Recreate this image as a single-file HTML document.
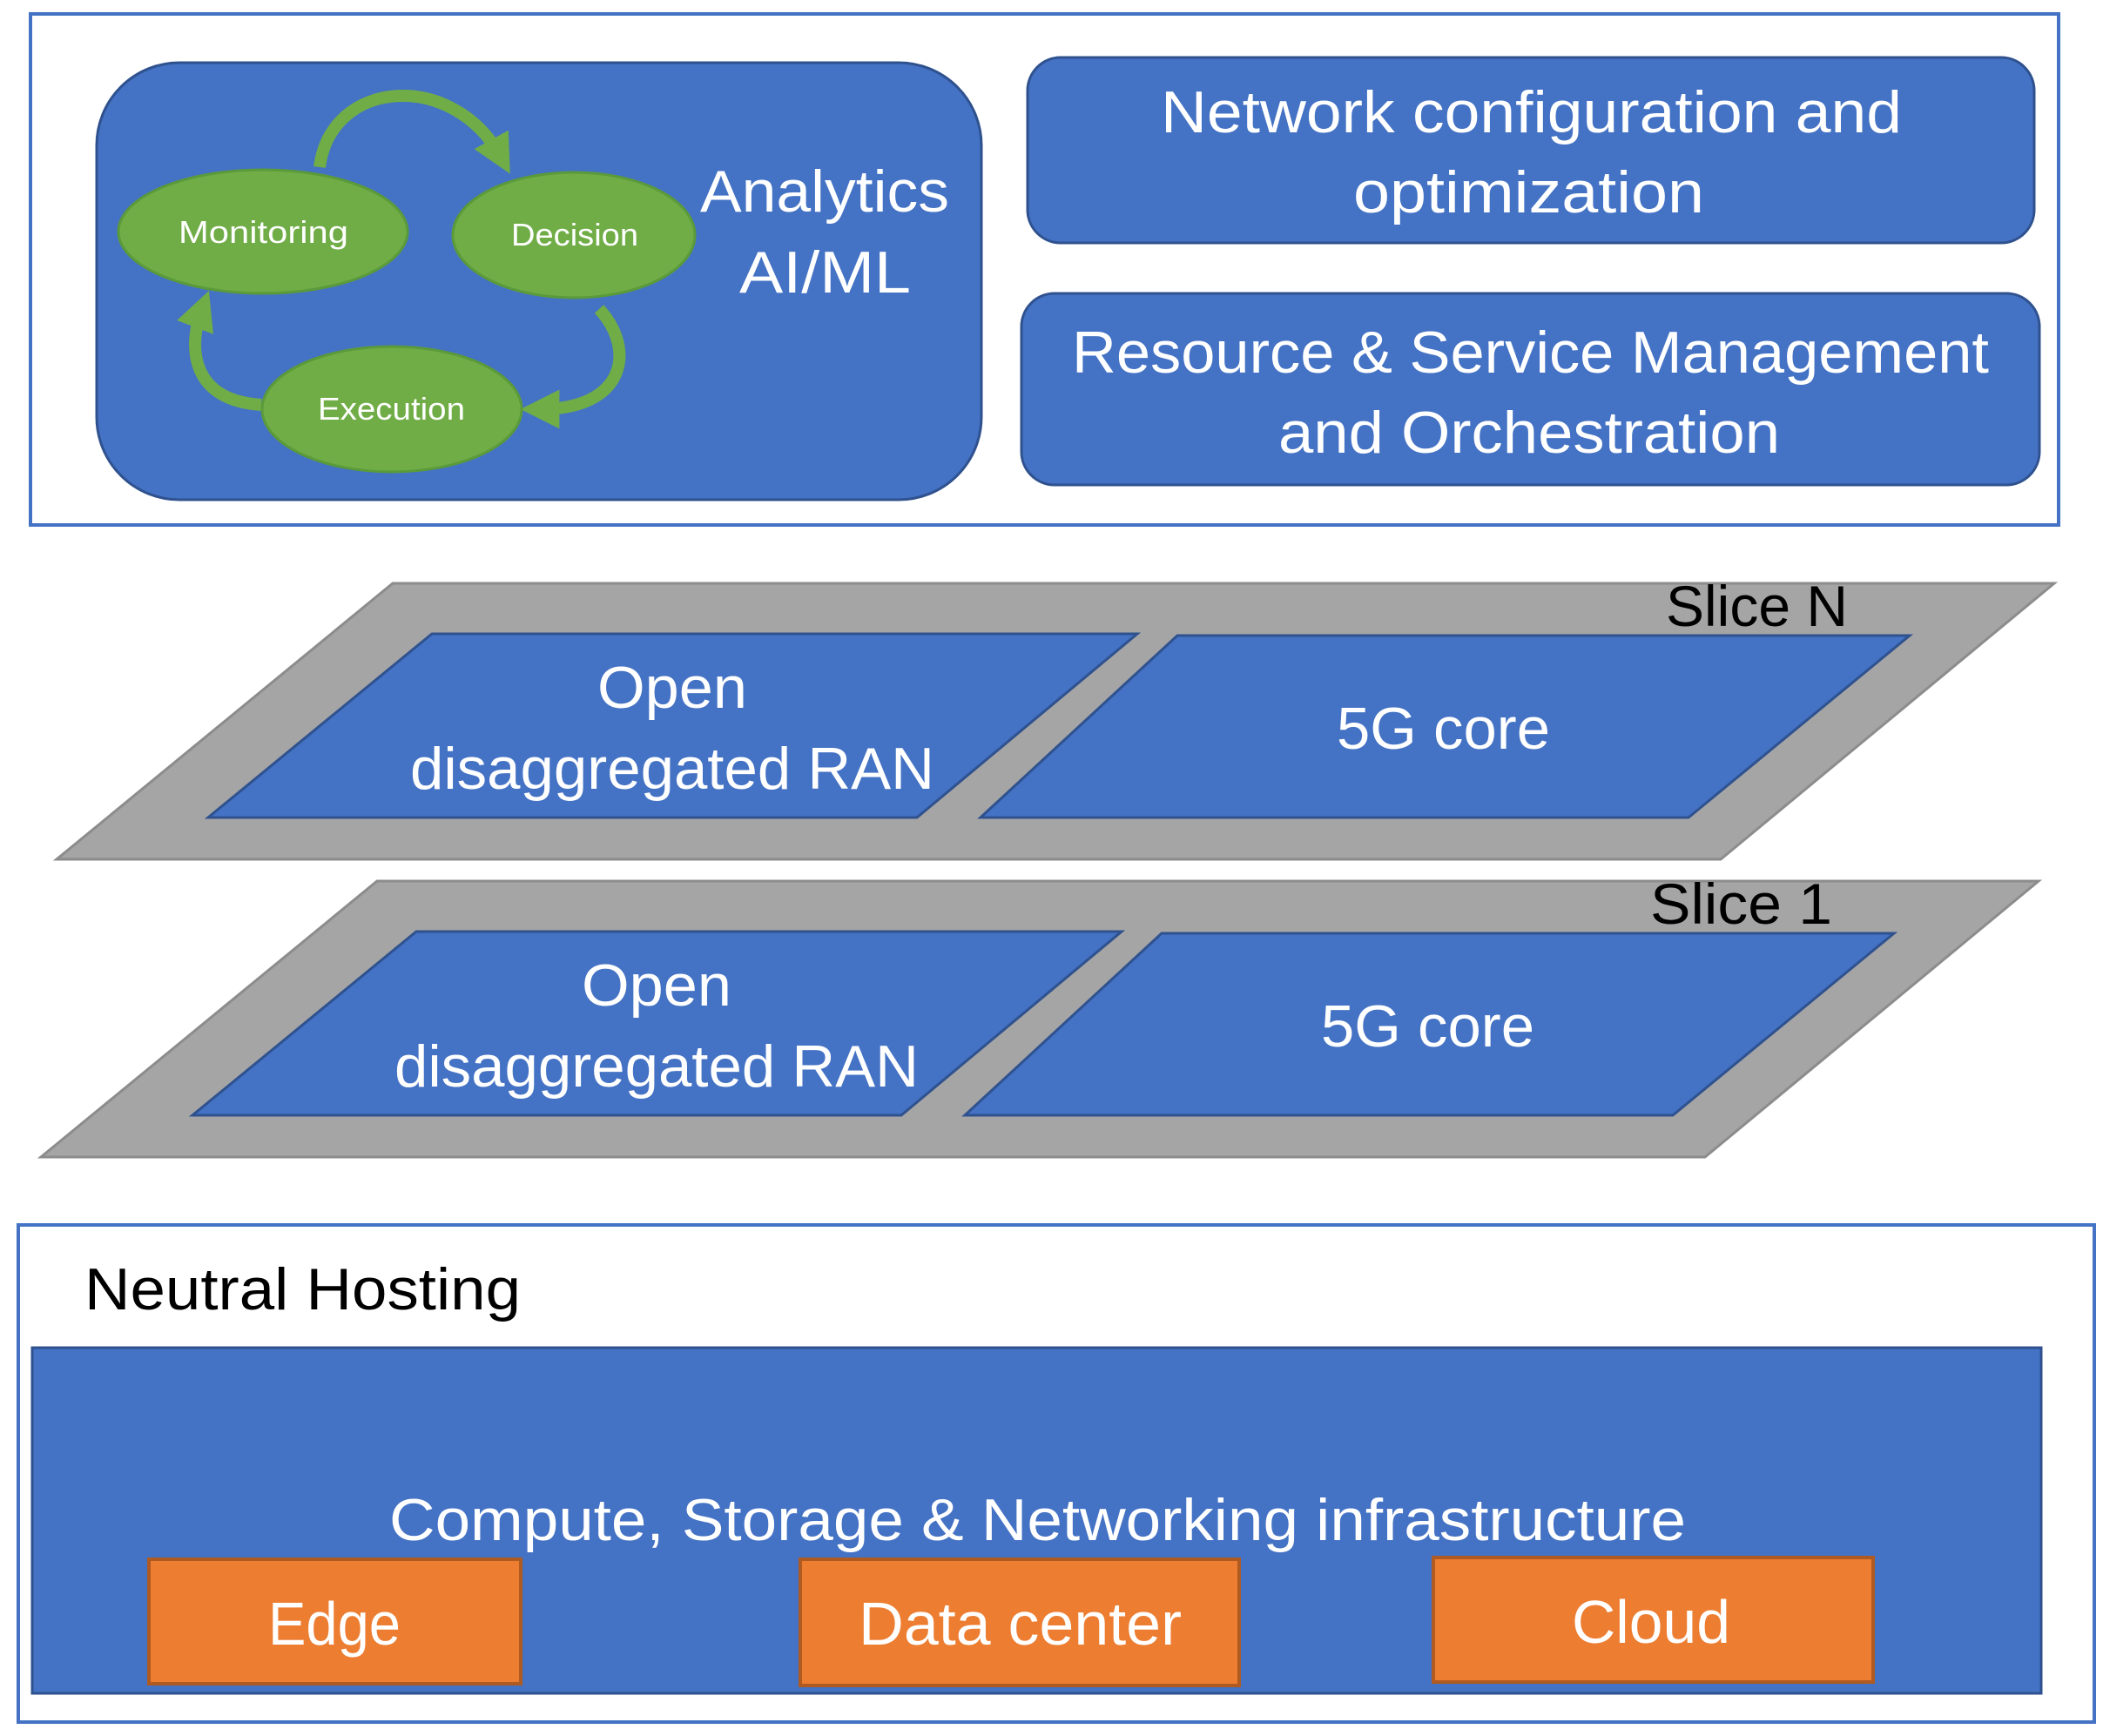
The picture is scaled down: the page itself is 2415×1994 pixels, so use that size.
<!DOCTYPE html>
<html><head><meta charset="utf-8"><style>html,body{margin:0;padding:0;background:#fff}svg{display:block}text{font-family:"Liberation Sans",sans-serif}</style></head>
<body>
<svg width="2415" height="1994" viewBox="0 0 2415 1994" xmlns="http://www.w3.org/2000/svg">
<defs>
<marker id="ah" viewBox="0 0 10 10" refX="5" refY="5" markerWidth="3.2" markerHeight="3.2" orient="auto"><path d="M0,0 L10,5 L0,10 Z" fill="#70AD47"/></marker>
</defs>
<!-- top box -->
<rect x="35" y="16" width="2329" height="587" fill="#fff" stroke="#4472C4" stroke-width="4"/>
<rect x="111" y="72" width="1016" height="502" rx="95" fill="#4472C4" stroke="#2F528F" stroke-width="3"/>
<rect x="1180" y="66" width="1156" height="213" rx="38" fill="#4472C4" stroke="#2F528F" stroke-width="3"/>
<rect x="1173" y="337" width="1169" height="220" rx="38" fill="#4472C4" stroke="#2F528F" stroke-width="3"/>
<g fill="#fff" font-size="68">
<text x="1333" y="152" textLength="851" lengthAdjust="spacingAndGlyphs">Network configuration and</text>
<text x="1554" y="244" textLength="403" lengthAdjust="spacingAndGlyphs">optimization</text>
<text x="1231" y="428" textLength="1053" lengthAdjust="spacingAndGlyphs">Resource &amp; Service Management</text>
<text x="1468" y="520" textLength="576" lengthAdjust="spacingAndGlyphs">and Orchestration</text>
<text x="804" y="243" textLength="286" lengthAdjust="spacingAndGlyphs">Analytics</text>
<text x="849" y="336" textLength="197" lengthAdjust="spacingAndGlyphs">AI/ML</text>
</g>
<!-- arrows -->
<g fill="none" stroke="#70AD47" stroke-width="14">
<path d="M367,192 C380,90 520,80 575,180" marker-end="url(#ah)"/>
<path d="M688,355 C730,400 720,470 620,470" marker-end="url(#ah)"/>
<path d="M300,465 C220,460 215,400 232,355" marker-end="url(#ah)"/>
</g>
<g fill="#70AD47" stroke="#5B9A3A" stroke-width="3">
<ellipse cx="302" cy="266" rx="166" ry="71"/>
<ellipse cx="659" cy="270" rx="139" ry="72"/>
<ellipse cx="450" cy="470" rx="149" ry="72"/>
</g>
<g fill="#fff" font-size="36">
<text x="205" y="279" textLength="195" lengthAdjust="spacingAndGlyphs">Monitoring</text>
<text x="587" y="282" textLength="146" lengthAdjust="spacingAndGlyphs">Decision</text>
<text x="365" y="482" textLength="169" lengthAdjust="spacingAndGlyphs">Execution</text>
</g>
<!-- slices -->
<g id="slice">
<polygon points="451,670 2359,670 1976,987 65,987" fill="#A5A5A5" stroke="#8C8C8C" stroke-width="3"/>
<polygon points="496,728 1306,728 1053,939 239,939" fill="#4472C4" stroke="#2F528F" stroke-width="3"/>
<polygon points="1352,730 2193,730 1939,939 1126,939" fill="#4472C4" stroke="#2F528F" stroke-width="3"/>
<g fill="#fff" font-size="68">
<text x="686" y="813" textLength="172" lengthAdjust="spacingAndGlyphs">Open</text>
<text x="471" y="906" textLength="602" lengthAdjust="spacingAndGlyphs">disaggregated RAN</text>
<text x="1535" y="860" textLength="245" lengthAdjust="spacingAndGlyphs">5G core</text>
</g>
</g>
<text x="1913" y="719" font-size="66" fill="#000" textLength="209" lengthAdjust="spacingAndGlyphs">Slice N</text>
<g transform="translate(-18,342)">
<polygon points="451,670 2359,670 1976,987 65,987" fill="#A5A5A5" stroke="#8C8C8C" stroke-width="3"/>
<polygon points="496,728 1306,728 1053,939 239,939" fill="#4472C4" stroke="#2F528F" stroke-width="3"/>
<polygon points="1352,730 2193,730 1939,939 1126,939" fill="#4472C4" stroke="#2F528F" stroke-width="3"/>
<g fill="#fff" font-size="68">
<text x="686" y="813" textLength="172" lengthAdjust="spacingAndGlyphs">Open</text>
<text x="471" y="906" textLength="602" lengthAdjust="spacingAndGlyphs">disaggregated RAN</text>
<text x="1535" y="860" textLength="245" lengthAdjust="spacingAndGlyphs">5G core</text>
</g>
<text x="1913" y="719" font-size="66" fill="#000" textLength="209" lengthAdjust="spacingAndGlyphs">Slice 1</text>
</g>
<!-- neutral hosting -->
<rect x="21" y="1407" width="2384" height="571" fill="#fff" stroke="#4472C4" stroke-width="4"/>
<text x="97" y="1504" font-size="68" fill="#000" textLength="501" lengthAdjust="spacingAndGlyphs">Neutral Hosting</text>
<rect x="37" y="1548" width="2307" height="397" fill="#4472C4" stroke="#2F528F" stroke-width="3"/>
<text x="447" y="1769" font-size="68" fill="#fff" textLength="1489" lengthAdjust="spacingAndGlyphs">Compute, Storage &amp; Networking infrastructure</text>
<g fill="#ED7D31" stroke="#AE5A21" stroke-width="4">
<rect x="171" y="1791" width="427" height="143"/>
<rect x="919" y="1791" width="504" height="145"/>
<rect x="1646" y="1789" width="505" height="143"/>
</g>
<g fill="#fff" font-size="70">
<text x="308" y="1889" textLength="152" lengthAdjust="spacingAndGlyphs">Edge</text>
<text x="986" y="1889" textLength="371" lengthAdjust="spacingAndGlyphs">Data center</text>
<text x="1805" y="1887" textLength="182" lengthAdjust="spacingAndGlyphs">Cloud</text>
</g>
</svg>
</body></html>
